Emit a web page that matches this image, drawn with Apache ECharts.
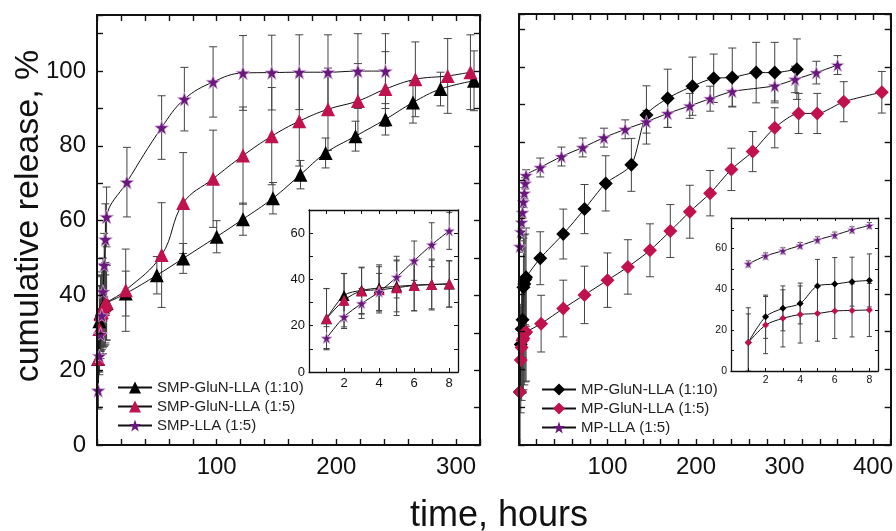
<!DOCTYPE html>
<html><head><meta charset="utf-8">
<script src="https://cdn.jsdelivr.net/npm/echarts@6/dist/echarts.min.js"></script>
<style>html,body{margin:0;padding:0;background:#fff}#c{width:896px;height:531px}</style>
</head><body><div id="c"></div>
<script>
// ---------- DATA ----------
const earlyTimes = [1, 2, 3, 4, 5, 6, 7, 8];

// Left panel: SMP
const smp110Early = [23, 33.1, 35.3, 36.3, 37, 37.5, 37.8, 38];
const smp110EarlyErr = [13, 9.5, 10, 10, 11, 11, 10.5, 10];
const smp110Times = [24, 50, 72, 100, 122, 147, 170, 191, 216, 241, 264, 287, 315];
const smp110Vals = [40.5, 45.4, 49.9, 55.7, 60.4, 66.0, 72.3, 78.1, 82.6, 87.1, 91.6, 95.2, 97.4];
const smp110Err = [6, 5, 4, 4.3, 4.3, 4.2, 3.8, 4, 4, 4.2, 5.5, 4.5, 8];

const smp15Early = [23.1, 31.0, 35.0, 35.5, 36.4, 37.4, 37.8, 38.1];
const smp15EarlyErr = [13, 11.5, 10, 10, 12, 11, 11, 10];
const smp15Times = [24, 54, 72, 97, 122, 146, 169, 193, 218, 241, 266, 293, 312];
const smp15Vals = [41.4, 50.8, 64.7, 71.2, 77.4, 82.6, 86.6, 89.8, 92.0, 95.2, 97.8, 98.7, 99.7];
const smp15Err = [11, 14, 13.5, 13, 13, 13, 12, 11, 10, 10, 10, 10, 10];

const smpLlaEarly = [14.6, 23.8, 29.6, 34.6, 41.0, 48.1, 55.0, 61.0];
const smpLlaEarlyErr = [5, 5, 6.5, 8, 9, 8.5, 9.5, 8];
const smpLlaTimes = [25, 54, 73, 97, 122, 146, 169, 193, 218, 241];
const smpLlaVals = [70.3, 84.9, 92.5, 97.1, 99.5, 99.6, 99.7, 99.7, 100, 100];
const smpLlaErr = [9.3, 8.5, 8.5, 9.4, 10, 10, 10, 10, 10, 10];

// Right panel: MP
const mp110Early = [14.0, 26.6, 30.7, 33.1, 41.7, 42.6, 43.8, 44.4];
const mp110EarlyErr = [17, 10.6, 11, 10, 13, 13, 12, 13];
const mp110Times = [24, 50, 74, 98, 127, 144, 168, 196, 220, 241, 268, 289, 314];
const mp110Vals = [49.4, 55.8, 62.4, 69.2, 74.1, 87.3, 91.7, 94.9, 97.0, 97.2, 98.5, 98.5, 99.4];
const mp110Err = [7, 6.6, 6.5, 7.3, 7, 7.7, 7.7, 7.7, 6.4, 7.8, 8, 8, 8];

const mp15Early = [14.0, 22.5, 25.8, 27.7, 28.2, 29.4, 29.7, 29.9];
const mp15EarlyErr = [14, 14, 14, 14, 13.6, 13.5, 13, 13];
const mp15Times = [25, 50, 74, 100, 123, 148, 171, 193, 216, 240, 264, 289, 316, 337, 367, 410];
const mp15Vals = [32.1, 36.1, 39.7, 43.6, 47.1, 51.5, 56.6, 61.7, 66.6, 72.9, 77.6, 83.9, 87.7, 87.7, 90.8, 93.3];
const mp15Err = [7.5, 7.5, 7.6, 7.2, 7.2, 7, 7, 7, 6, 5.6, 5.3, 5.3, 5.3, 5.3, 5.3, 5.5];

const mpLlaEarly = [52.5, 56.4, 58.9, 61.5, 64.3, 66.6, 69.2, 71.3];
const mpLlaEarlyErr = [1.5, 1.5, 1.5, 1.5, 1.5, 1.5, 1.5, 1.5];
const mpLlaTimes = [24, 48, 72, 96, 120, 144, 168, 193, 216, 241, 289, 312, 336, 360];
const mpLlaVals = [73.4, 76.3, 78.7, 81.3, 83.5, 85.5, 87.7, 89.7, 91.6, 93.5, 95.0, 96.7, 98.5, 100.5];
const mpLlaErr = [2.5, 2.5, 2.5, 2.5, 2.5, 3, 3.7, 3.3, 3.3, 3.9, 4, 3.5, 3, 2.5];

const leftNames = ['SMP-GluN-LLA (1:10)', 'SMP-GluN-LLA (1:5)', 'SMP-LLA (1:5)'];
const rightNames = ['MP-GluN-LLA (1:10)', 'MP-GluN-LLA (1:5)', 'MP-LLA (1:5)'];
const yTitle = 'cumulative release, %';
const xTitle = 'time, hours';

// ---------- HELPERS ----------
const FONT = '"Liberation Sans", Arial, sans-serif';
const RED = '#c0124c', PURPLE = '#6a177e', BLACK = '#000';
const STAR = 'path://M0,-10L2.35,-3.24L9.51,-3.09L3.8,1.24L5.88,8.09L0,4L-5.88,8.09L-3.8,1.24L-9.51,-3.09L-2.35,-3.24Z';

const pts = (t, v) => t.map((x, i) => [x, v[i]]);
const errs = (t, v, e) => t.map((x, i) => [x, v[i] - e[i], v[i] + e[i]]);

function mkAxis(grid, min, max, interval, position, showLabel, fmt, lw, fs, margin, zl, tickLen) {
  return {type: 'value', gridIndex: grid, min, max, interval, position, zlevel: zl, z: 6,
    axisLine: {show: true, onZero: false, lineStyle: {color: '#111', width: lw}},
    axisTick: {show: true, inside: true, length: tickLen, lineStyle: {color: '#111', width: Math.max(1, lw * 0.7)}},
    splitLine: {show: false},
    axisLabel: {show: showLabel, interval: 0, formatter: fmt, fontSize: fs, color: '#111', fontFamily: FONT, margin}};
}
function lineS(name, data, ai, symbol, size, color, smooth, zl, border) {
  return {type: 'line', name, data, xAxisIndex: ai, yAxisIndex: ai, zlevel: zl, z: 4, smooth, symbol, symbolSize: size,
    lineStyle: {color: '#111', width: 1}, animation: false,
    itemStyle: {color, borderColor: border || color, borderWidth: border ? 0.7 : 0, opacity: 1},
    emphasis: {disabled: true}};
}
function errS(data, ai, cap, zl) {
  return {type: 'custom', xAxisIndex: ai, yAxisIndex: ai, zlevel: zl, z: 3, silent: true, clip: true,
    data, encode: {x: 0, y: [1, 2]},
    renderItem: (params, api) => {
      const x = api.value(0), lo = api.value(1), hi = api.value(2);
      const p1 = api.coord([x, hi]), p2 = api.coord([x, lo]);
      const st = {stroke: '#444', lineWidth: 1};
      return {type: 'group', children: [
        {type: 'line', shape: {x1: p1[0], y1: p1[1], x2: p2[0], y2: p2[1]}, style: st},
        {type: 'line', shape: {x1: p1[0] - cap, y1: p1[1], x2: p1[0] + cap, y2: p1[1]}, style: st},
        {type: 'line', shape: {x1: p2[0] - cap, y1: p2[1], x2: p2[0] + cap, y2: p2[1]}, style: st}]};
    }};
}

const fmtMainX = v => (v !== 0 && v % 100 === 0) ? String(v) : '';
const fmtMainY = v => (v % 20 === 0 && v <= 100) ? String(v) : '';
const fmtInX = v => (v !== 0 && v % 2 === 0) ? String(v) : '';
const fmtInY = v => (v % 20 === 0) ? String(v) : '';

const xAxes = [
  mkAxis(0, 0, 320, 20, 'bottom', true, fmtMainX, 2, 24, 10, 0, 6),
  mkAxis(0, 0, 320, 20, 'top', false, fmtMainX, 2, 24, 10, 0, 6),
  mkAxis(1, 0, 420, 20, 'bottom', true, fmtMainX, 2, 24, 10, 0, 6),
  mkAxis(1, 0, 420, 20, 'top', false, fmtMainX, 2, 24, 10, 0, 6),
  mkAxis(2, 0, 8.5, 1, 'bottom', true, fmtInX, 1.3, 13, 5, 1, 4),
  mkAxis(2, 0, 8.5, 1, 'top', false, fmtInX, 1.3, 13, 5, 1, 4),
  mkAxis(3, 0, 8.5, 1, 'bottom', true, fmtInX, 1.3, 10.5, 4, 1, 3),
  mkAxis(3, 0, 8.5, 1, 'top', false, fmtInX, 1.3, 10.5, 4, 1, 3)
];
const yAxes = [
  mkAxis(0, 0, 115, 10, 'left', true, fmtMainY, 2, 24, 11, 0, 6),
  mkAxis(0, 0, 115, 10, 'right', false, fmtMainY, 2, 24, 11, 0, 6),
  mkAxis(1, 0, 114, 10, 'left', false, fmtMainY, 2, 24, 11, 0, 6),
  mkAxis(1, 0, 114, 10, 'right', false, fmtMainY, 2, 24, 11, 0, 6),
  mkAxis(2, 0, 70, 10, 'left', true, fmtInY, 1.3, 13, 4, 1, 4),
  mkAxis(2, 0, 70, 10, 'right', false, fmtInY, 1.3, 13, 4, 1, 4),
  mkAxis(3, 0, 75, 10, 'left', true, fmtInY, 1.3, 10.5, 4, 1, 3),
  mkAxis(3, 0, 75, 10, 'right', false, fmtInY, 1.3, 10.5, 4, 1, 3)
];

const series = [];
function addPanel(gi, names, sets, mainSmooth) {
  const ai = 2 * gi, ii = 2 * (gi + 2);
  sets.forEach((s, k) => {
    const mainData = pts(earlyTimes, s.early).concat(pts(s.times, s.vals));
    const mainErr = errs(earlyTimes, s.early, s.earlyErr).concat(errs(s.times, s.vals, s.err));
    series.push(errS(mainErr, ai, 4, 0));
    series.push(lineS(names[k], mainData, ai, s.symbol, s.sizeMain, s.color, mainSmooth, 0, s.border));
    series.push(errS(errs(earlyTimes, s.early, s.earlyErr), ii, gi === 0 ? 3 : 2.5, 1));
    series.push(lineS(names[k] + ' inset', pts(earlyTimes, s.early), ii, s.symbol, s.sizeIn, s.color, 0.3, 1, s.border));
  });
}
addPanel(0, leftNames, [
  {early: smp110Early, earlyErr: smp110EarlyErr, times: smp110Times, vals: smp110Vals, err: smp110Err, symbol: 'triangle', sizeMain: 14, sizeIn: 11, color: BLACK},
  {early: smp15Early, earlyErr: smp15EarlyErr, times: smp15Times, vals: smp15Vals, err: smp15Err, symbol: 'triangle', sizeMain: 14, sizeIn: 11, color: RED},
  {early: smpLlaEarly, earlyErr: smpLlaEarlyErr, times: smpLlaTimes, vals: smpLlaVals, err: smpLlaErr, symbol: STAR, sizeMain: 14, sizeIn: 11, color: PURPLE, border: '#d9b8de'}
], 0.4);
addPanel(1, rightNames, [
  {early: mp110Early, earlyErr: mp110EarlyErr, times: mp110Times, vals: mp110Vals, err: mp110Err, symbol: 'diamond', sizeMain: 14, sizeIn: 7, color: BLACK},
  {early: mp15Early, earlyErr: mp15EarlyErr, times: mp15Times, vals: mp15Vals, err: mp15Err, symbol: 'diamond', sizeMain: 14, sizeIn: 7, color: RED},
  {early: mpLlaEarly, earlyErr: mpLlaEarlyErr, times: mpLlaTimes, vals: mpLlaVals, err: mpLlaErr, symbol: STAR, sizeMain: 13, sizeIn: 9, color: PURPLE, border: '#d9b8de'}
], 0.25);

const legendBase = {orient: 'vertical', itemWidth: 34, itemHeight: 15, itemGap: 4, selectedMode: false,
  textStyle: {fontSize: 15, fontFamily: FONT, color: '#222'}};
const legendData = names => names.map(n => ({name: n, itemStyle: {borderWidth: 0}}));

const option = {
  animation: false,
  backgroundColor: '#fff',
  grid: [
    {left: 97, top: 15, width: 383, height: 430},
    {left: 519, top: 14, width: 373, height: 431},
    {left: 309, top: 210, width: 149, height: 162, zlevel: 1, show: true, backgroundColor: '#fff', borderWidth: 0},
    {left: 731, top: 218, width: 147, height: 153, zlevel: 1, show: true, backgroundColor: '#fff', borderWidth: 0}
  ],
  xAxis: xAxes,
  yAxis: yAxes,
  legend: [
    Object.assign({}, legendBase, {data: legendData(leftNames), left: 112, top: 375}),
    Object.assign({}, legendBase, {data: legendData(rightNames), left: 536, top: 377})
  ],
  graphic: [
    {type: 'text', x: 29, y: 216, rotation: Math.PI / 2,
      style: {text: yTitle, font: '34px ' + FONT, fill: '#111', align: 'center', verticalAlign: 'middle'}},
    {type: 'text', x: 499, y: 516,
      style: {text: xTitle, font: '36px ' + FONT, fill: '#111', align: 'center', verticalAlign: 'middle'}}
  ],
  series
};
const chart = echarts.init(document.getElementById('c'), null, {renderer: 'canvas'});
chart.setOption(option);
</script></body></html>
